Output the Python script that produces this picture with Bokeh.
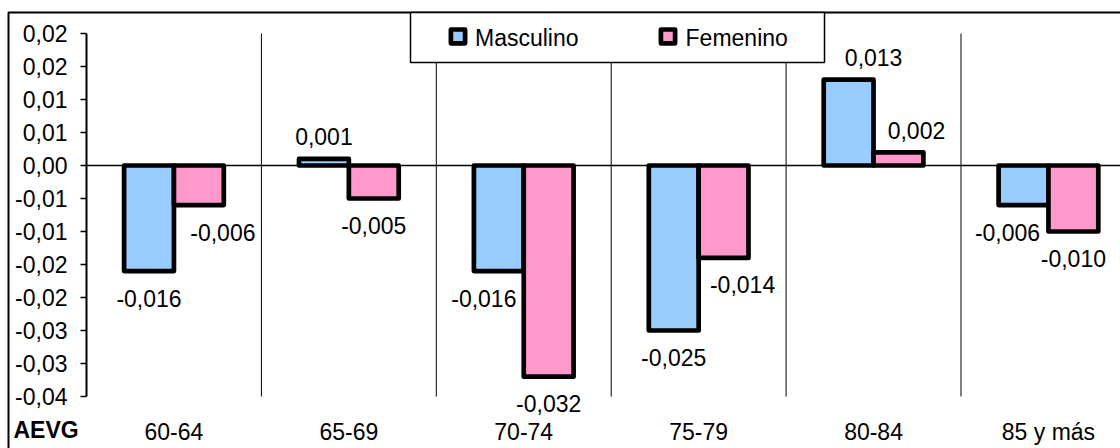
from bokeh.plotting import figure
from bokeh.models import (ColumnDataSource, Range1d, FixedTicker, LabelSet, Label,
                          Legend, LegendItem)
from bokeh.core.properties import value
from bokeh.embed import file_html
from bokeh.resources import INLINE

# Data: change by age group (AEVG), by sex
age_groups = ["60-64", "65-69", "70-74", "75-79", "80-84", "85 y más"]
masculino = [-0.016, 0.001, -0.016, -0.025, 0.013, -0.006]
femenino = [-0.006, -0.005, -0.032, -0.014, 0.002, -0.010]
series_names = ["Masculino", "Femenino"]

y_ticks = [-0.035, -0.03, -0.025, -0.02, -0.015, -0.01, -0.005, 0.0, 0.005, 0.01, 0.015, 0.02]
y_tick_labels = ["-0,04", "-0,03", "-0,03", "-0,02", "-0,02", "-0,01", "-0,01",
                 "0,00", "0,01", "0,01", "0,02", "0,02"]
y_min, y_max = -0.035, 0.02

# horizontal nudges (px) for the value labels
masc_label_dx = [0, 0, -15, 0, 25, -16]
fem_label_dx = [24, 0, 0, 19, 18, 0]

FONT = "Liberation Sans"
FS = "23px"
BLUE = "#99CCFF"
PINK = "#FF99CC"
COLORS = [BLUE, PINK]
BAR_W = 0.285
HALF = BAR_W / 2
STROKE = 4.7

# pixel geometry of the plotting area inside the canvas
W, H = 1120, 448
PLOT_LEFT, PLOT_TOP, PLOT_BOTTOM = 86, 33, 396
PX_PER_CAT = 174.9
PX_PER_UNIT = (PLOT_BOTTOM - PLOT_TOP) / (y_max - y_min)


def px_x(px):
    """canvas pixel column -> x coordinate"""
    return (px - PLOT_LEFT) / PX_PER_CAT


def px_y(py):
    """canvas pixel row (from top) -> y coordinate"""
    return y_max - (py - PLOT_TOP) / PX_PER_UNIT


def fmt(v):
    return f"{v:.3f}".replace(".", ",")


n = len(age_groups)
centers = [i + 0.5 for i in range(n)]
src_m = ColumnDataSource(dict(
    x=[c - HALF for c in centers], top=masculino,
    text=[fmt(v) for v in masculino], dx=masc_label_dx,
    dy=[22 if v > 0 else -27 for v in masculino]))
src_f = ColumnDataSource(dict(
    x=[c + HALF for c in centers], top=femenino,
    text=[fmt(v) for v in femenino], dx=fem_label_dx,
    dy=[22 if v > 0 else -27 for v in femenino]))

p = figure(width=W, height=H, output_backend="svg", toolbar_location=None,
           x_range=Range1d(px_x(0), px_x(W)), y_range=Range1d(px_y(H), px_y(0)),
           min_border=0)
p.outline_line_color = None
p.background_fill_color = "white"
p.border_fill_color = "white"
p.grid.visible = False

# outer chart border (only its top and left edges fall inside the canvas)
p.quad(left=[px_x(8)], right=[px_x(W + 50)], top=[px_y(12)], bottom=[px_y(H + 50)],
       fill_alpha=0, line_color="black", line_width=2)

# separators between age groups
bounds = list(range(1, n))
p.segment(x0=bounds, x1=bounds, y0=y_min, y1=y_max, line_color="black", line_width=1)

# zero line
p.segment(x0=[0], x1=[n], y0=[0], y1=[0], line_color="black", line_width=1.3)

r_m = p.vbar(x="x", top="top", bottom=0, width=BAR_W, source=src_m,
             fill_color=BLUE, line_color="black", line_width=STROKE, line_join="round")
r_f = p.vbar(x="x", top="top", bottom=0, width=BAR_W, source=src_f,
             fill_color=PINK, line_color="black", line_width=STROKE, line_join="round")

for src in (src_m, src_f):
    p.add_layout(LabelSet(x="x", y="top", text="text", source=src,
                          x_offset="dx", y_offset="dy",
                          text_align="center", text_baseline="middle",
                          text_font=value(FONT), text_font_size=value(FS),
                          text_color="black"))

# x axis: category names under the plotting area
p.xaxis.fixed_location = y_min
p.xaxis.ticker = FixedTicker(ticks=centers)
p.xaxis.major_label_overrides = {c: g for c, g in zip(centers, age_groups)}
p.xaxis.axis_line_color = None
p.xaxis.major_tick_line_color = None
p.xaxis.minor_tick_line_color = None
p.xaxis.major_label_standoff = 16
p.xaxis.major_label_text_font = FONT
p.xaxis.major_label_text_font_size = FS
p.xaxis.major_label_text_color = "black"

# y axis
p.yaxis.fixed_location = 0
p.yaxis.bounds = (y_min, y_max)
p.yaxis.ticker = FixedTicker(ticks=y_ticks)
p.yaxis.major_label_overrides = {t: s for t, s in zip(y_ticks, y_tick_labels)}
p.yaxis.axis_line_color = "black"
p.yaxis.axis_line_width = 2
p.yaxis.major_tick_line_color = "black"
p.yaxis.major_tick_line_width = 1.5
p.yaxis.major_tick_in = 0
p.yaxis.major_tick_out = 6
p.yaxis.minor_tick_line_color = None
p.yaxis.major_label_standoff = 13
p.yaxis.major_label_text_font = FONT
p.yaxis.major_label_text_font_size = FS
p.yaxis.major_label_text_color = "black"

p.add_layout(Label(x=px_x(13), y=px_y(429), text="AEVG",
                   text_align="left", text_baseline="middle",
                   text_font=FONT, text_font_size=FS, text_font_style="bold",
                   text_color="black"))

# legend frame, covering the top of the separators
p.quad(left=[px_x(410)], right=[px_x(824)], top=[px_y(12)], bottom=[px_y(62)],
       fill_color="white", line_color="black", line_width=1.5)

# legend swatches: small squares with a heavy black border
sw_left = [px_x(450.4), px_x(660.4)]
sw_right = [px_x(464.6), px_x(674.6)]
p.quad(left=sw_left, right=sw_right, top=px_y(29), bottom=px_y(42.8),
       fill_color=COLORS, line_color="black", line_width=STROKE, line_join="round")

# legend texts (their glyphs are transparent; the swatches above stand in for them)
sw_m = p.scatter(x="x", y="top", source=src_m, marker="square", size=14,
                 fill_alpha=0, line_alpha=0)
sw_f = p.scatter(x="x", y="top", source=src_f, marker="square", size=14,
                 fill_alpha=0, line_alpha=0)
legend = Legend(items=[LegendItem(label=series_names[0], renderers=[sw_m], index=0),
                       LegendItem(label=series_names[1], renderers=[sw_f], index=0)],
                orientation="horizontal", location=(440, 392),
                padding=0, margin=0, spacing=72, glyph_width=35, glyph_height=35,
                label_standoff=-2, label_text_font=FONT, label_text_font_size=FS,
                label_text_color="black", inactive_fill_alpha=0,
                border_line_alpha=0, background_fill_alpha=0)
p.add_layout(legend)

open("out.html", "w").write(file_html(p, INLINE))
